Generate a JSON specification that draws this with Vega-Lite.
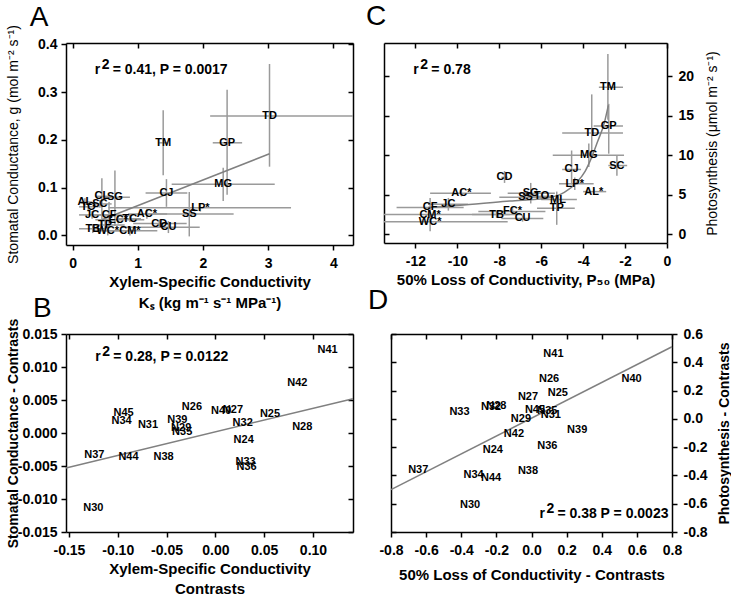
{
  "$schema": "https://vega.github.io/schema/vega-lite/v6.json",
  "padding": {"left": 5, "top": 3, "right": 5, "bottom": 3},
  "background": "white",
  "config": {
    "font": "Liberation Sans",
    "view": {"stroke": null},
    "locale": {"number": {"decimal": ".", "thousands": ",", "grouping": [3], "currency": ["$", ""], "minus": "-"}},
    "axis": {"labelFont": "Liberation Sans", "labelFontSize": 14, "labelFontWeight": "bold", "labelColor": "black",
             "titleFont": "Liberation Sans", "titleFontSize": 15, "titleFontWeight": "bold", "titleColor": "black",
             "domainColor": "black", "domainWidth": 1.5, "tickColor": "black", "tickWidth": 1.5, "tickSize": 5, "grid": false,
             "labelOverlap": false, "labelBound": false, "labelFlush": false},
    "axisX": {"labelPadding": 6},
    "axisY": {"labelPadding": 4},
    "title": {"font": "Liberation Sans", "fontSize": 28, "fontWeight": "normal", "color": "black", "anchor": "start", "frame": "group"},
    "concat": {"spacing": 12}
  },
  "datasets": {
    "A": [
      {"label": "TD", "x": 3.02, "y": 0.25, "xlo": 2.11, "xhi": 4.35, "ylo": 0.144, "yhi": 0.359},
      {"label": "GP", "x": 2.37, "y": 0.194, "xlo": 2.15, "xhi": 2.6, "ylo": 0.085, "yhi": 0.305},
      {"label": "TM", "x": 1.39, "y": 0.194, "xlo": 1.33, "xhi": 1.45, "ylo": 0.126, "yhi": 0.262},
      {"label": "MG", "x": 2.31, "y": 0.107, "xlo": 1.52, "xhi": 3.1, "ylo": 0.072, "yhi": 0.142},
      {"label": "CJ", "x": 1.44, "y": 0.089, "xlo": 1.12, "xhi": 1.76, "ylo": 0.06, "yhi": 0.118},
      {"label": "LP*", "x": 1.96, "y": 0.058, "xlo": 0.55, "xhi": 3.35, "ylo": 0.05, "yhi": 0.066},
      {"label": "SS", "x": 1.79, "y": 0.045, "xlo": 1.0, "xhi": 2.47, "ylo": -0.002, "yhi": 0.091},
      {"label": "AC*", "x": 1.14, "y": 0.045, "xlo": 0.85, "xhi": 1.45, "ylo": 0.035, "yhi": 0.055},
      {"label": "CD", "x": 1.33, "y": 0.025, "xlo": 0.93, "xhi": 1.75, "ylo": 0.018, "yhi": 0.033},
      {"label": "CU", "x": 1.47, "y": 0.017, "xlo": 0.75, "xhi": 1.95, "ylo": 0.005, "yhi": 0.03},
      {"label": "TC", "x": 0.88, "y": 0.035, "xlo": 0.7, "xhi": 1.05, "ylo": 0.028, "yhi": 0.042},
      {"label": "EC*", "x": 0.7, "y": 0.033, "xlo": 0.35, "xhi": 1.1, "ylo": 0.025, "yhi": 0.041},
      {"label": "CF", "x": 0.56, "y": 0.043, "xlo": 0.3, "xhi": 0.9, "ylo": 0.02, "yhi": 0.07},
      {"label": "JC", "x": 0.3, "y": 0.043, "xlo": 0.1, "xhi": 0.55, "ylo": 0.035, "yhi": 0.051},
      {"label": "TB", "x": 0.31, "y": 0.014, "xlo": 0.1, "xhi": 0.55, "ylo": 0.005, "yhi": 0.023},
      {"label": "TP", "x": 0.5, "y": 0.022, "xlo": 0.25, "xhi": 0.8, "ylo": 0.012, "yhi": 0.032},
      {"label": "WC*", "x": 0.54, "y": 0.01, "xlo": 0.3, "xhi": 0.9, "ylo": 0.0, "yhi": 0.02},
      {"label": "CM*", "x": 0.88, "y": 0.01, "xlo": 0.5, "xhi": 1.3, "ylo": 0.0, "yhi": 0.02},
      {"label": "AL", "x": 0.19, "y": 0.07, "xlo": 0.1, "xhi": 0.3, "ylo": 0.062, "yhi": 0.078},
      {"label": "TO", "x": 0.24, "y": 0.06, "xlo": 0.1, "xhi": 0.4, "ylo": 0.052, "yhi": 0.068},
      {"label": "SC", "x": 0.42, "y": 0.066, "xlo": 0.3, "xhi": 0.6, "ylo": 0.058, "yhi": 0.074},
      {"label": "CL", "x": 0.45, "y": 0.082, "xlo": 0.35, "xhi": 0.55, "ylo": 0.01, "yhi": 0.12},
      {"label": "SG", "x": 0.65, "y": 0.08, "xlo": 0.5, "xhi": 0.88, "ylo": 0.02, "yhi": 0.136}
    ],
    "Aline": [{"x": 0.45, "y": 0.033}, {"x": 3.02, "y": 0.171}],
    "C": [
      {"label": "TM", "x": -2.82, "y": 18.6, "xlo": -3.25, "xhi": -2.1, "ylo": 14.5, "yhi": 22.8},
      {"label": "GP", "x": -2.78, "y": 13.7, "xlo": -3.5, "xhi": -2.1, "ylo": 10.2, "yhi": 16.5},
      {"label": "TD", "x": -3.59, "y": 12.8, "xlo": -5.0, "xhi": -2.1, "ylo": 9.6, "yhi": 17.7},
      {"label": "MG", "x": -3.73, "y": 10.0, "xlo": -5.45, "xhi": -2.05, "ylo": 8.5, "yhi": 11.5},
      {"label": "SC", "x": -2.39, "y": 8.7, "xlo": -2.8, "xhi": -1.9, "ylo": 7.4, "yhi": 9.9},
      {"label": "CJ", "x": -4.55, "y": 8.2, "xlo": -5.0, "xhi": -4.1, "ylo": 6.3, "yhi": 10.6},
      {"label": "LP*", "x": -4.4, "y": 6.4, "xlo": -5.15, "xhi": -3.5, "ylo": 5.6, "yhi": 7.2},
      {"label": "AL*", "x": -3.49, "y": 5.4, "xlo": -4.0, "xhi": -2.9, "ylo": 5.0, "yhi": 5.8},
      {"label": "CD", "x": -7.75, "y": 7.2, "xlo": -7.9, "xhi": -7.6, "ylo": 6.5, "yhi": 8.0},
      {"label": "AC*", "x": -9.81, "y": 5.2, "xlo": -11.3, "xhi": -8.4, "ylo": 4.8, "yhi": 5.6},
      {"label": "SG", "x": -6.5, "y": 5.2, "xlo": -7.6, "xhi": -5.35, "ylo": 3.9, "yhi": 6.5},
      {"label": "SS", "x": -6.75, "y": 4.7, "xlo": -8.0, "xhi": -5.5, "ylo": 4.3, "yhi": 5.1},
      {"label": "TO", "x": -5.98, "y": 4.8, "xlo": -6.6, "xhi": -5.4, "ylo": 4.4, "yhi": 5.2},
      {"label": "ML", "x": -5.2, "y": 4.4, "xlo": -6.0, "xhi": -4.3, "ylo": 4.0, "yhi": 4.8},
      {"label": "TP", "x": -5.26, "y": 3.3, "xlo": -6.2, "xhi": -4.4, "ylo": 1.2, "yhi": 5.4},
      {"label": "FC*", "x": -7.37, "y": 2.9, "xlo": -9.0, "xhi": -5.8, "ylo": 2.5, "yhi": 3.3},
      {"label": "TB", "x": -8.13, "y": 2.5, "xlo": -9.3, "xhi": -7.0, "ylo": 2.1, "yhi": 2.9},
      {"label": "CU", "x": -6.89, "y": 2.0, "xlo": -7.9, "xhi": -5.9, "ylo": 1.6, "yhi": 2.4},
      {"label": "JC", "x": -10.43, "y": 3.8, "xlo": -11.4, "xhi": -9.5, "ylo": 3.0, "yhi": 4.6},
      {"label": "CF", "x": -11.3, "y": 3.4, "xlo": -12.9, "xhi": -9.7, "ylo": 2.2, "yhi": 4.6},
      {"label": "CM*", "x": -11.3, "y": 2.5, "xlo": -13.5, "xhi": -7.5, "ylo": 2.1, "yhi": 2.9},
      {"label": "WC*", "x": -11.3, "y": 1.6, "xlo": -13.5, "xhi": -7.6, "ylo": 0.4, "yhi": 2.8}
    ],
    "Cline": [
      {"x": -11.4, "y": 3.4}, {"x": -9.7, "y": 3.7}, {"x": -7.5, "y": 4.2}, {"x": -5.7, "y": 4.6},
      {"x": -4.9, "y": 5.3}, {"x": -4.3, "y": 6.6}, {"x": -3.9, "y": 8.0}, {"x": -3.6, "y": 9.7},
      {"x": -3.3, "y": 11.8}, {"x": -3.0, "y": 14.0}, {"x": -2.8, "y": 16.3}
    ],
    "B": [
      {"label": "N41", "x": 0.115, "y": 0.0126},
      {"label": "N42", "x": 0.084, "y": 0.0076},
      {"label": "N45", "x": -0.094, "y": 0.003},
      {"label": "N34", "x": -0.096, "y": 0.0018},
      {"label": "N31", "x": -0.069, "y": 0.0012},
      {"label": "N26", "x": -0.024, "y": 0.004},
      {"label": "N39", "x": -0.039, "y": 0.0019},
      {"label": "N29", "x": -0.035, "y": 0.0008},
      {"label": "N35", "x": -0.034, "y": 0.0002},
      {"label": "N40", "x": 0.006, "y": 0.0033},
      {"label": "N27", "x": 0.018, "y": 0.0035},
      {"label": "N32", "x": 0.028, "y": 0.0015},
      {"label": "N25", "x": 0.056, "y": 0.0029},
      {"label": "N28", "x": 0.089, "y": 0.0009},
      {"label": "N24", "x": 0.029, "y": -0.001},
      {"label": "N33", "x": 0.031, "y": -0.0044},
      {"label": "N36", "x": 0.032, "y": -0.0051},
      {"label": "N37", "x": -0.124, "y": -0.0033},
      {"label": "N44", "x": -0.089, "y": -0.0036},
      {"label": "N38", "x": -0.053, "y": -0.0036},
      {"label": "N30", "x": -0.125, "y": -0.0114}
    ],
    "Bline": [{"x": -0.153, "y": -0.0053}, {"x": 0.141, "y": 0.0052}],
    "D": [
      {"label": "N41", "x": 0.125, "y": 0.46},
      {"label": "N26", "x": 0.1, "y": 0.28},
      {"label": "N40", "x": 0.57, "y": 0.28},
      {"label": "N25", "x": 0.15, "y": 0.18},
      {"label": "N27", "x": -0.02, "y": 0.155},
      {"label": "N33", "x": -0.41, "y": 0.05},
      {"label": "N32", "x": -0.23, "y": 0.085},
      {"label": "N28", "x": -0.2, "y": 0.09},
      {"label": "N45", "x": 0.02, "y": 0.065},
      {"label": "N35", "x": 0.09, "y": 0.055},
      {"label": "N31", "x": 0.11, "y": 0.03},
      {"label": "N29", "x": -0.06, "y": 0.0},
      {"label": "N39", "x": 0.26, "y": -0.08},
      {"label": "N42", "x": -0.1, "y": -0.105},
      {"label": "N36", "x": 0.09, "y": -0.19},
      {"label": "N24", "x": -0.22, "y": -0.22},
      {"label": "N37", "x": -0.645, "y": -0.36},
      {"label": "N38", "x": -0.02, "y": -0.37},
      {"label": "N34", "x": -0.33, "y": -0.4},
      {"label": "N44", "x": -0.23, "y": -0.42},
      {"label": "N30", "x": -0.35, "y": -0.61}
    ],
    "Dline": [{"x": -0.8, "y": -0.5}, {"x": 0.8, "y": 0.51}]
  },
  "vconcat": [
    {
      "hconcat": [
        {
          "width": 287, "height": 202,
          "data": {"name": "A"},
          "layer": [
            {"mark": {"type": "rule", "color": "#9a9a9a", "strokeWidth": 1.5, "clip": true},
             "encoding": {
               "x": {"field": "xlo", "type": "quantitative", "scale": {"domain": [-0.1, 4.3], "nice": false, "zero": false},
                     "axis": {"orient": "bottom", "values": [0, 1, 2, 3, 4], "format": "d", "title": ["Xylem-Specific Conductivity", "Kₛ (kg m⁻¹ s⁻¹ MPa⁻¹)"], "titleLineHeight": 21, "titlePadding": 4}},
               "x2": {"field": "xhi"},
               "y": {"field": "y", "type": "quantitative", "scale": {"domain": [-0.02, 0.403], "nice": false, "zero": false},
                     "axis": {"orient": "left", "values": [0, 0.1, 0.2, 0.3, 0.4], "format": ".1f", "zindex": 1, "title": "Stomatal Conductance, g (mol m⁻² s⁻¹)", "titleFontWeight": "normal", "titleFontSize": 14, "titleX": -46}}
             }},
            {"mark": {"type": "rule", "color": "#9a9a9a", "strokeWidth": 1.5, "clip": true},
             "encoding": {
               "x": {"field": "x", "type": "quantitative", "scale": {"domain": [-0.1, 4.3], "nice": false, "zero": false},
                     "axis": {"orient": "top", "values": [0, 1, 2, 3, 4], "labels": false, "title": null, "tickSize": -5}},
               "y": {"field": "ylo", "type": "quantitative", "scale": {"domain": [-0.02, 0.403], "nice": false, "zero": false},
                     "axis": {"orient": "right", "values": [0, 0.1, 0.2, 0.3, 0.4], "labels": false, "title": null, "tickSize": -5}},
               "y2": {"field": "yhi"}
             }},
            {"data": {"name": "Aline"},
             "mark": {"type": "line", "color": "#808080", "strokeWidth": 1.5},
             "encoding": {
               "x": {"field": "x", "type": "quantitative", "scale": {"domain": [-0.1, 4.3], "nice": false, "zero": false}, "axis": null},
               "y": {"field": "y", "type": "quantitative", "scale": {"domain": [-0.02, 0.403], "nice": false, "zero": false}, "axis": null}
             }},
            {"mark": {"type": "text", "fontSize": 11, "fontWeight": "bold", "color": "black", "align": "center", "baseline": "middle"},
             "encoding": {
               "x": {"field": "x", "type": "quantitative", "scale": {"domain": [-0.1, 4.3], "nice": false, "zero": false}, "axis": null},
               "y": {"field": "y", "type": "quantitative", "scale": {"domain": [-0.02, 0.403], "nice": false, "zero": false}, "axis": null},
               "text": {"field": "label"}
             }},
            {"data": {"values": [{"t": "r", "o": 0, "v": 0}, {"t": "2", "o": 7, "v": -5}, {"t": "= 0.41, P = 0.0017", "o": 18, "v": 0}]},
             "mark": {"type": "text", "fontSize": 14, "fontWeight": "bold", "color": "black", "align": "left", "baseline": "middle"},
             "encoding": {
               "x": {"datum": 0.34, "type": "quantitative", "scale": {"domain": [-0.1, 4.3], "nice": false, "zero": false}, "axis": null},
               "y": {"datum": 0.346, "type": "quantitative", "scale": {"domain": [-0.02, 0.403], "nice": false, "zero": false}, "axis": null},
               "xOffset": {"field": "o", "type": "quantitative", "scale": null},
               "yOffset": {"field": "v", "type": "quantitative", "scale": null},
               "text": {"field": "t"}
             }},
            {"data": {"values": [{"t": "A"}]},
             "mark": {"type": "text", "fontSize": 28, "fontWeight": "normal", "color": "black", "align": "left", "baseline": "alphabetic"},
             "encoding": {
               "x": {"datum": -0.655, "type": "quantitative", "scale": {"domain": [-0.1, 4.3], "nice": false, "zero": false}, "axis": null},
               "y": {"datum": 0.4385, "type": "quantitative", "scale": {"domain": [-0.02, 0.403], "nice": false, "zero": false}, "axis": null},
               "text": {"field": "t"}
             }}
          ],
          "resolve": {"axis": {"x": "independent", "y": "independent"}}
        },
        {
          "width": 283, "height": 200,
          "title": {"text": "C", "dx": -18, "offset": 11},
          "data": {"name": "C"},
          "layer": [
            {"mark": {"type": "rule", "color": "#9a9a9a", "strokeWidth": 1.5, "clip": true},
             "encoding": {
               "x": {"field": "xlo", "type": "quantitative", "scale": {"domain": [-13.5, 0], "nice": false, "zero": false},
                     "axis": {"orient": "bottom", "values": [-12, -10, -8, -6, -4, -2, 0], "format": "d", "title": "50% Loss of Conductivity, P₅₀ (MPa)", "titlePadding": 4}},
               "x2": {"field": "xhi"},
               "y": {"field": "y", "type": "quantitative", "scale": {"domain": [-1.1, 24.2], "nice": false, "zero": false},
                     "axis": {"orient": "right", "values": [0, 5, 10, 15, 20], "format": "d", "title": "Photosynthesis  (μmol m⁻² s⁻¹)", "titleFontWeight": "normal", "titleFontSize": 14, "titleAngle": 270, "titleBaseline": "top", "titlePadding": 12, "labelPadding": 6}}
             }},
            {"mark": {"type": "rule", "color": "#9a9a9a", "strokeWidth": 1.5, "clip": true},
             "encoding": {
               "x": {"field": "x", "type": "quantitative", "scale": {"domain": [-13.5, 0], "nice": false, "zero": false},
                     "axis": {"orient": "top", "values": [-12, -10, -8, -6, -4, -2, 0], "labels": false, "title": null, "tickSize": -5}},
               "y": {"field": "ylo", "type": "quantitative", "scale": {"domain": [-1.1, 24.2], "nice": false, "zero": false},
                     "axis": {"orient": "left", "values": [0, 5, 10, 15, 20], "labels": false, "title": null, "tickSize": -5}},
               "y2": {"field": "yhi"}
             }},
            {"data": {"name": "Cline"},
             "mark": {"type": "line", "color": "#808080", "strokeWidth": 1.5, "interpolate": "monotone"},
             "encoding": {
               "x": {"field": "x", "type": "quantitative", "scale": {"domain": [-13.5, 0], "nice": false, "zero": false}, "axis": null},
               "y": {"field": "y", "type": "quantitative", "scale": {"domain": [-1.1, 24.2], "nice": false, "zero": false}, "axis": null}
             }},
            {"mark": {"type": "text", "fontSize": 11, "fontWeight": "bold", "color": "black", "align": "center", "baseline": "middle"},
             "encoding": {
               "x": {"field": "x", "type": "quantitative", "scale": {"domain": [-13.5, 0], "nice": false, "zero": false}, "axis": null},
               "y": {"field": "y", "type": "quantitative", "scale": {"domain": [-1.1, 24.2], "nice": false, "zero": false}, "axis": null},
               "text": {"field": "label"}
             }},
            {"data": {"values": [{"t": "r", "o": 0, "v": 0}, {"t": "2", "o": 7, "v": -5}, {"t": "= 0.78", "o": 18, "v": 0}]},
             "mark": {"type": "text", "fontSize": 14, "fontWeight": "bold", "color": "black", "align": "left", "baseline": "middle"},
             "encoding": {
               "x": {"datum": -12.1, "type": "quantitative", "scale": {"domain": [-13.5, 0], "nice": false, "zero": false}, "axis": null},
               "y": {"datum": 20.8, "type": "quantitative", "scale": {"domain": [-1.1, 24.2], "nice": false, "zero": false}, "axis": null},
               "xOffset": {"field": "o", "type": "quantitative", "scale": null},
               "yOffset": {"field": "v", "type": "quantitative", "scale": null},
               "text": {"field": "t"}
             }}
          ],
          "resolve": {"axis": {"x": "independent", "y": "independent"}}
        }
      ]
    },
    {
      "hconcat": [
        {
          "width": 287, "height": 198,
          "title": {"text": "B", "dx": -33, "offset": -5},
          "data": {"name": "B"},
          "layer": [
            {"data": {"name": "Bline"},
             "mark": {"type": "line", "color": "#808080", "strokeWidth": 1.5},
             "encoding": {
               "x": {"field": "x", "type": "quantitative", "scale": {"domain": [-0.153, 0.141], "nice": false, "zero": false},
                     "axis": {"orient": "bottom", "values": [-0.15, -0.1, -0.05, 0, 0.05, 0.1], "format": ".2f", "title": ["Xylem-Specific Conductivity", "Contrasts"], "titleLineHeight": 20, "titlePadding": 4}},
               "y": {"field": "y", "type": "quantitative", "scale": {"domain": [-0.015, 0.015], "nice": false, "zero": false},
                     "axis": {"orient": "left", "values": [-0.015, -0.01, -0.005, 0, 0.005, 0.01, 0.015], "format": ".3f", "title": "Stomatal Conductance - Contrasts", "titleFontSize": 14, "titleX": -46}}
             }},
            {"mark": {"type": "text", "fontSize": 11, "fontWeight": "bold", "color": "black", "align": "center", "baseline": "middle"},
             "encoding": {
               "x": {"field": "x", "type": "quantitative", "scale": {"domain": [-0.153, 0.141], "nice": false, "zero": false},
                     "axis": {"orient": "top", "values": [-0.15, -0.1, -0.05, 0, 0.05, 0.1], "labels": false, "title": null, "tickSize": -5}},
               "y": {"field": "y", "type": "quantitative", "scale": {"domain": [-0.015, 0.015], "nice": false, "zero": false},
                     "axis": {"orient": "right", "values": [-0.015, -0.01, -0.005, 0, 0.005, 0.01, 0.015], "labels": false, "title": null, "tickSize": -5}},
               "text": {"field": "label"}
             }},
            {"data": {"values": [{"t": "r", "o": 0, "v": 0}, {"t": "2", "o": 7, "v": -5}, {"t": "= 0.28, P = 0.0122", "o": 18, "v": 0}]},
             "mark": {"type": "text", "fontSize": 14, "fontWeight": "bold", "color": "black", "align": "left", "baseline": "middle"},
             "encoding": {
               "x": {"datum": -0.123, "type": "quantitative", "scale": {"domain": [-0.153, 0.141], "nice": false, "zero": false}, "axis": null},
               "y": {"datum": 0.0115, "type": "quantitative", "scale": {"domain": [-0.015, 0.015], "nice": false, "zero": false}, "axis": null},
               "xOffset": {"field": "o", "type": "quantitative", "scale": null},
               "yOffset": {"field": "v", "type": "quantitative", "scale": null},
               "text": {"field": "t"}
             }}
          ],
          "resolve": {"axis": {"x": "independent", "y": "independent"}}
        },
        {
          "width": 281, "height": 198,
          "title": {"text": "D", "dx": -23, "offset": 12},
          "data": {"name": "D"},
          "layer": [
            {"data": {"name": "Dline"},
             "mark": {"type": "line", "color": "#808080", "strokeWidth": 1.5},
             "encoding": {
               "x": {"field": "x", "type": "quantitative", "scale": {"domain": [-0.8, 0.8], "nice": false, "zero": false},
                     "axis": {"orient": "bottom", "values": [-0.8, -0.6, -0.4, -0.2, 0, 0.2, 0.4, 0.6, 0.8], "format": ".1f", "title": "50% Loss of Conductivity - Contrasts", "titlePadding": 10}},
               "y": {"field": "y", "type": "quantitative", "scale": {"domain": [-0.8, 0.6], "nice": false, "zero": false},
                     "axis": {"orient": "right", "values": [-0.8, -0.6, -0.4, -0.2, 0, 0.2, 0.4, 0.6], "format": ".1f", "title": "Photosynthesis - Contrasts", "titleFontSize": 14, "titleAngle": 270, "titleBaseline": "top", "titlePadding": 10, "labelPadding": 6}}
             }},
            {"mark": {"type": "text", "fontSize": 11, "fontWeight": "bold", "color": "black", "align": "center", "baseline": "middle"},
             "encoding": {
               "x": {"field": "x", "type": "quantitative", "scale": {"domain": [-0.8, 0.8], "nice": false, "zero": false},
                     "axis": {"orient": "top", "values": [-0.8, -0.6, -0.4, -0.2, 0, 0.2, 0.4, 0.6, 0.8], "labels": false, "title": null, "tickSize": -5}},
               "y": {"field": "y", "type": "quantitative", "scale": {"domain": [-0.8, 0.6], "nice": false, "zero": false},
                     "axis": {"orient": "left", "values": [-0.8, -0.6, -0.4, -0.2, 0, 0.2, 0.4, 0.6], "labels": false, "title": null, "tickSize": -5}},
               "text": {"field": "label"}
             }},
            {"data": {"values": [{"t": "r", "o": 0, "v": 0}, {"t": "2", "o": 7, "v": -5}, {"t": "= 0.38 P = 0.0023", "o": 18, "v": 0}]},
             "mark": {"type": "text", "fontSize": 14, "fontWeight": "bold", "color": "black", "align": "left", "baseline": "middle"},
             "encoding": {
               "x": {"datum": 0.045, "type": "quantitative", "scale": {"domain": [-0.8, 0.8], "nice": false, "zero": false}, "axis": null},
               "y": {"datum": -0.675, "type": "quantitative", "scale": {"domain": [-0.8, 0.6], "nice": false, "zero": false}, "axis": null},
               "xOffset": {"field": "o", "type": "quantitative", "scale": null},
               "yOffset": {"field": "v", "type": "quantitative", "scale": null},
               "text": {"field": "t"}
             }}
          ],
          "resolve": {"axis": {"x": "independent", "y": "independent"}}
        }
      ]
    }
  ],
  "spacing": -23
}
